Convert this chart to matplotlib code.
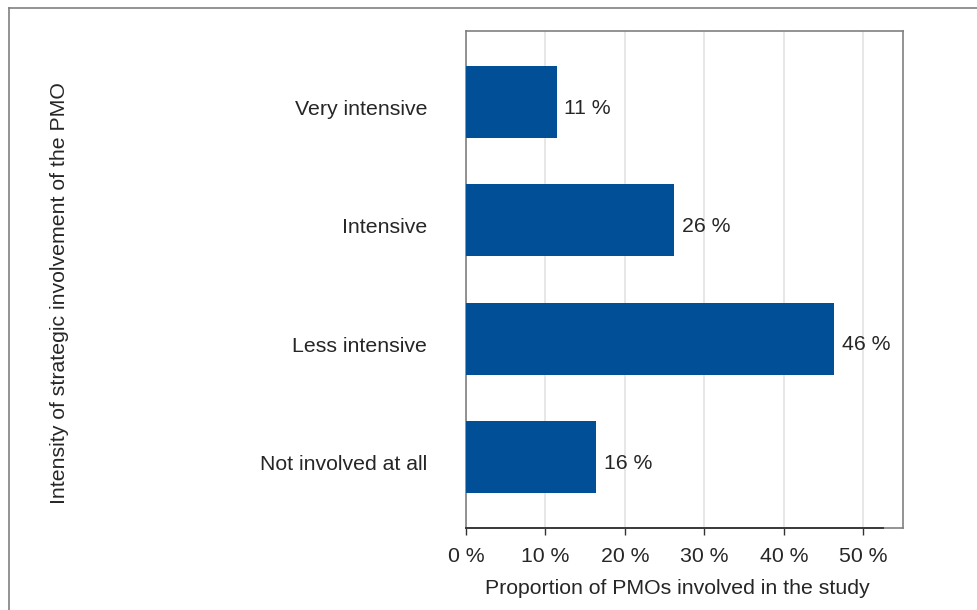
import matplotlib
matplotlib.use("Agg")
import matplotlib.pyplot as plt
import matplotlib.transforms as mtrans
from matplotlib.lines import Line2D

plt.rcParams['font.family'] = ['Liberation Sans', 'DejaVu Sans']

categories = ["Very intensive", "Intensive", "Less intensive", "Not involved at all"]
values = [11.4, 26.2, 46.3, 16.4]
value_labels = ["11 %", "26 %", "46 %", "16 %"]
xticks = [0, 10, 20, 30, 40, 50]
xtick_labels = ["0 %", "10 %", "20 %", "30 %", "40 %", "50 %"]

text_color = "#262626"
bar_color = "#004f97"
fs = 15.3

fig = plt.figure(figsize=(9.78, 6.10), dpi=100)
ax = fig.add_axes([466/978, 1 - 528/610, (903-466)/978, (528-31)/610])

ypos = list(range(len(categories)))
ax.barh(ypos, values, height=0.61, color=bar_color, zorder=3)
for y, v, lab in zip(ypos, values, value_labels):
    ax.annotate(lab, (v, y), xytext=(5.5, -4.5), textcoords="offset points",
                va="center", ha="left", fontsize=fs, color=text_color, zorder=4)

ax.set_xlim(0, 55)
ax.set_ylim(3.6, -0.6)
ax.set_yticks(ypos)
ax.set_yticklabels(categories, fontsize=fs, color=text_color)
ax.tick_params(axis='y', length=0, pad=28)
shift = mtrans.ScaledTranslation(0, -4/72, fig.dpi_scale_trans)
for t in ax.get_yticklabels():
    t.set_transform(t.get_transform() + shift)
ax.set_xticks(xticks)
ax.set_xticklabels(xtick_labels, fontsize=fs, color=text_color)
ax.tick_params(axis='x', length=5, width=1, color="#333333", pad=9, direction='out')

ax.grid(axis='x', color="#e3e3e3", linewidth=1.2, zorder=0)
for s in ax.spines.values():
    s.set_color("#808080")
    s.set_linewidth(1.2)
ax.axhline(3.6, xmin=0, xmax=52.5/55, color="#3a3a3a", linewidth=1.4, zorder=5, clip_on=False)

ax.set_xlabel("Proportion of PMOs involved in the study", fontsize=fs, color=text_color, labelpad=9)
ax.xaxis.label.set_x((677 - 466) / 437)
fig.text(60/978, 1 - 293/610, "Intensity of strategic involvement of the PMO",
         rotation=90, ha="center", va="center", fontsize=fs, color=text_color)

# figure frame (left and top)
fig.add_artist(Line2D([8.5/978, 8.5/978], [0, 1 - 8/610], transform=fig.transFigure,
                      color="#808080", linewidth=1.2))
fig.add_artist(Line2D([8.5/978, 1], [1 - 8/610, 1 - 8/610], transform=fig.transFigure,
                      color="#808080", linewidth=1.2))

fig.savefig("out.png", dpi=100)
